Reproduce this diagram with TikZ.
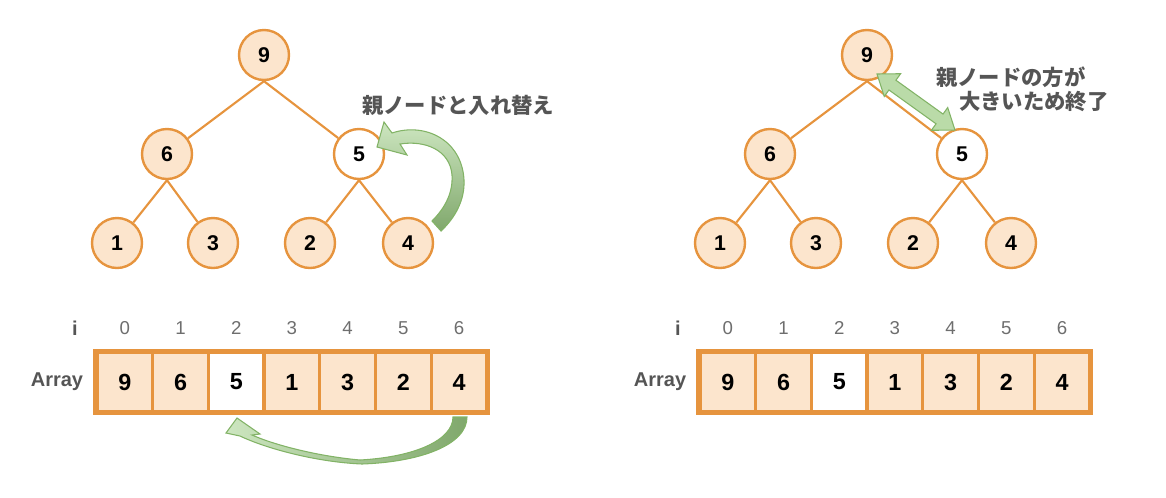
\documentclass[tikz,border=0pt]{standalone}
\usepackage{fontspec}
\setmainfont{Liberation Sans}
\newfontfamily\jpfont{Noto Sans CJK JP}
\usetikzlibrary{positioning}

\definecolor{heapline}{RGB}{230,148,62}
\definecolor{heapfill}{RGB}{252,229,205}
\definecolor{labelgray}{RGB}{85,85,85}
\definecolor{indexgray}{RGB}{110,110,110}
\definecolor{arrowlight}{RGB}{205,230,192}
\definecolor{arrowmid}{RGB}{186,219,168}
\definecolor{arrowdark}{RGB}{128,168,108}
\definecolor{arrowline}{RGB}{130,179,102}

\begin{document}
\begin{tikzpicture}[x=0.75pt, y=-0.75pt,
    heapnode/.style={circle, draw=heapline, line width=1.8pt, fill=heapfill, minimum size=37.5pt, inner sep=0pt, font=\fontsize{16}{19}\selectfont\bfseries},
    newnode/.style={heapnode, fill=white},
    heapedge/.style={draw=heapline, line width=1.6pt},
    cell/.style={rectangle, draw=heapline, line width=2.4pt, fill=heapfill, minimum width=41.8pt, minimum height=44.2pt, inner sep=0pt, font=\fontsize{17.5}{20}\selectfont\bfseries},
    newcell/.style={cell, fill=white},
    idx/.style={text=indexgray, font=\fontsize{14}{16}\selectfont},
    rowlabel/.style={text=labelgray, font=\fontsize{15}{18}\selectfont\bfseries},
    note/.style={text=labelgray, font=\jpfont\fontsize{16}{19}\selectfont\bfseries, inner sep=0pt},
    swaparrow/.style={draw=arrowline, line width=0.8pt}]
    \useasboundingbox (0,0) rectangle (1166,497);

    % left: tree after the swap
    \node[heapnode] (l9) at (264,55) {9};
    \node[heapnode] (l6) at (167,154) {6};
    \node[newnode] (l5) at (359,154) {5};
    \node[heapnode] (l1) at (117,243) {1};
    \node[heapnode] (l3) at (213,243) {3};
    \node[heapnode] (l2) at (310,243) {2};
    \node[heapnode] (l4) at (408,243) {4};

    \draw[heapedge] (l9.south) -- (l6);
    \draw[heapedge] (l9.south) -- (l5);
    \draw[heapedge] (l6.south) -- (l1);
    \draw[heapedge] (l6.south) -- (l3);
    \draw[heapedge] (l5.south) -- (l2);
    \draw[heapedge] (l5.south) -- (l4);

    \node[note] (lnote) at (458,105) {親ノードと入れ替え};
    \path[swaparrow, top color=arrowlight, bottom color=arrowdark]
        (384,122) -- (392,133) .. controls (425,122) and (462,140) .. (464,180)
        .. controls (465,200) and (455,218) .. (441,231) -- (432,221)
        .. controls (446,207) and (453,192) .. (452,175)
        .. controls (450,150) and (425,140) .. (400,144)
        -- (407,155) -- (377,147) -- cycle;

    % left: array
    \node[rowlabel] (li) at (75,328) {i};
    \node[rowlabel] (larr) at (57,382) {Array};
    \node[cell] (a0) at (124.9,382) {9};
    \node[cell] (a1) at (180.6,382) {6};
    \node[newcell] (a2) at (236.3,382) {5};
    \node[cell] (a3) at (291.9,382) {1};
    \node[cell] (a4) at (347.6,382) {3};
    \node[cell] (a5) at (403.3,382) {2};
    \node[cell] (a6) at (459.0,382) {4};
    \draw[heapline, line width=3pt] (a0.north west) rectangle (a6.south east);
    \node[idx] (ai0) at (124.9,328) {0};
    \node[idx] (ai1) at (180.6,328) {1};
    \node[idx] (ai2) at (236.3,328) {2};
    \node[idx] (ai3) at (291.9,328) {3};
    \node[idx] (ai4) at (347.6,328) {4};
    \node[idx] (ai5) at (403.3,328) {5};
    \node[idx] (ai6) at (459.0,328) {6};

    \path[swaparrow, left color=arrowlight, right color=arrowdark]
        (237,418) -- (226,433) -- (240,436) .. controls (265,448) and (315,462) .. (362,464)
        .. controls (420,462) and (467,445) .. (467,417) -- (453,417)
        .. controls (453,440) and (415,457) .. (360,460)
        .. controls (315,456) and (272,444) .. (252,435) -- (260,434) -- cycle;

    % right: tree, parent is larger so stop
    \node[heapnode] (r9) at (867,55) {9};
    \node[heapnode] (r6) at (770,154) {6};
    \node[newnode] (r5) at (962,154) {5};
    \node[heapnode] (r1) at (720,243) {1};
    \node[heapnode] (r3) at (816,243) {3};
    \node[heapnode] (r2) at (913,243) {2};
    \node[heapnode] (r4) at (1011,243) {4};

    \draw[heapedge] (r9.south) -- (r6);
    \draw[heapedge] (r9.south) -- (r5);
    \draw[heapedge] (r6.south) -- (r1);
    \draw[heapedge] (r6.south) -- (r3);
    \draw[heapedge] (r5.south) -- (r2);
    \draw[heapedge] (r5.south) -- (r4);

    \begin{scope}[shift={(877,74)}, rotate=-35.7]
        \path[swaparrow, fill=arrowmid] (0,0) -- (19,14) -- (19,6) -- (77,6) -- (77,14) -- (96,0)
            -- (77,-14) -- (77,-6) -- (19,-6) -- (19,-14) -- cycle;
    \end{scope}
    \node[note, anchor=west] (rnote1) at (936,77) {親ノードの方が};
    \node[note, anchor=west] (rnote2) at (959,102) {大きいため終了};

    % right: array
    \node[rowlabel] (ri) at (678,328) {i};
    \node[rowlabel] (rarr) at (660,382) {Array};
    \node[cell] (b0) at (727.9,382) {9};
    \node[cell] (b1) at (783.6,382) {6};
    \node[newcell] (b2) at (839.3,382) {5};
    \node[cell] (b3) at (894.9,382) {1};
    \node[cell] (b4) at (950.6,382) {3};
    \node[cell] (b5) at (1006.3,382) {2};
    \node[cell] (b6) at (1062.0,382) {4};
    \draw[heapline, line width=3pt] (b0.north west) rectangle (b6.south east);
    \node[idx] (bi0) at (727.9,328) {0};
    \node[idx] (bi1) at (783.6,328) {1};
    \node[idx] (bi2) at (839.3,328) {2};
    \node[idx] (bi3) at (894.9,328) {3};
    \node[idx] (bi4) at (950.6,328) {4};
    \node[idx] (bi5) at (1006.3,328) {5};
    \node[idx] (bi6) at (1062.0,328) {6};
\end{tikzpicture}
\end{document}
